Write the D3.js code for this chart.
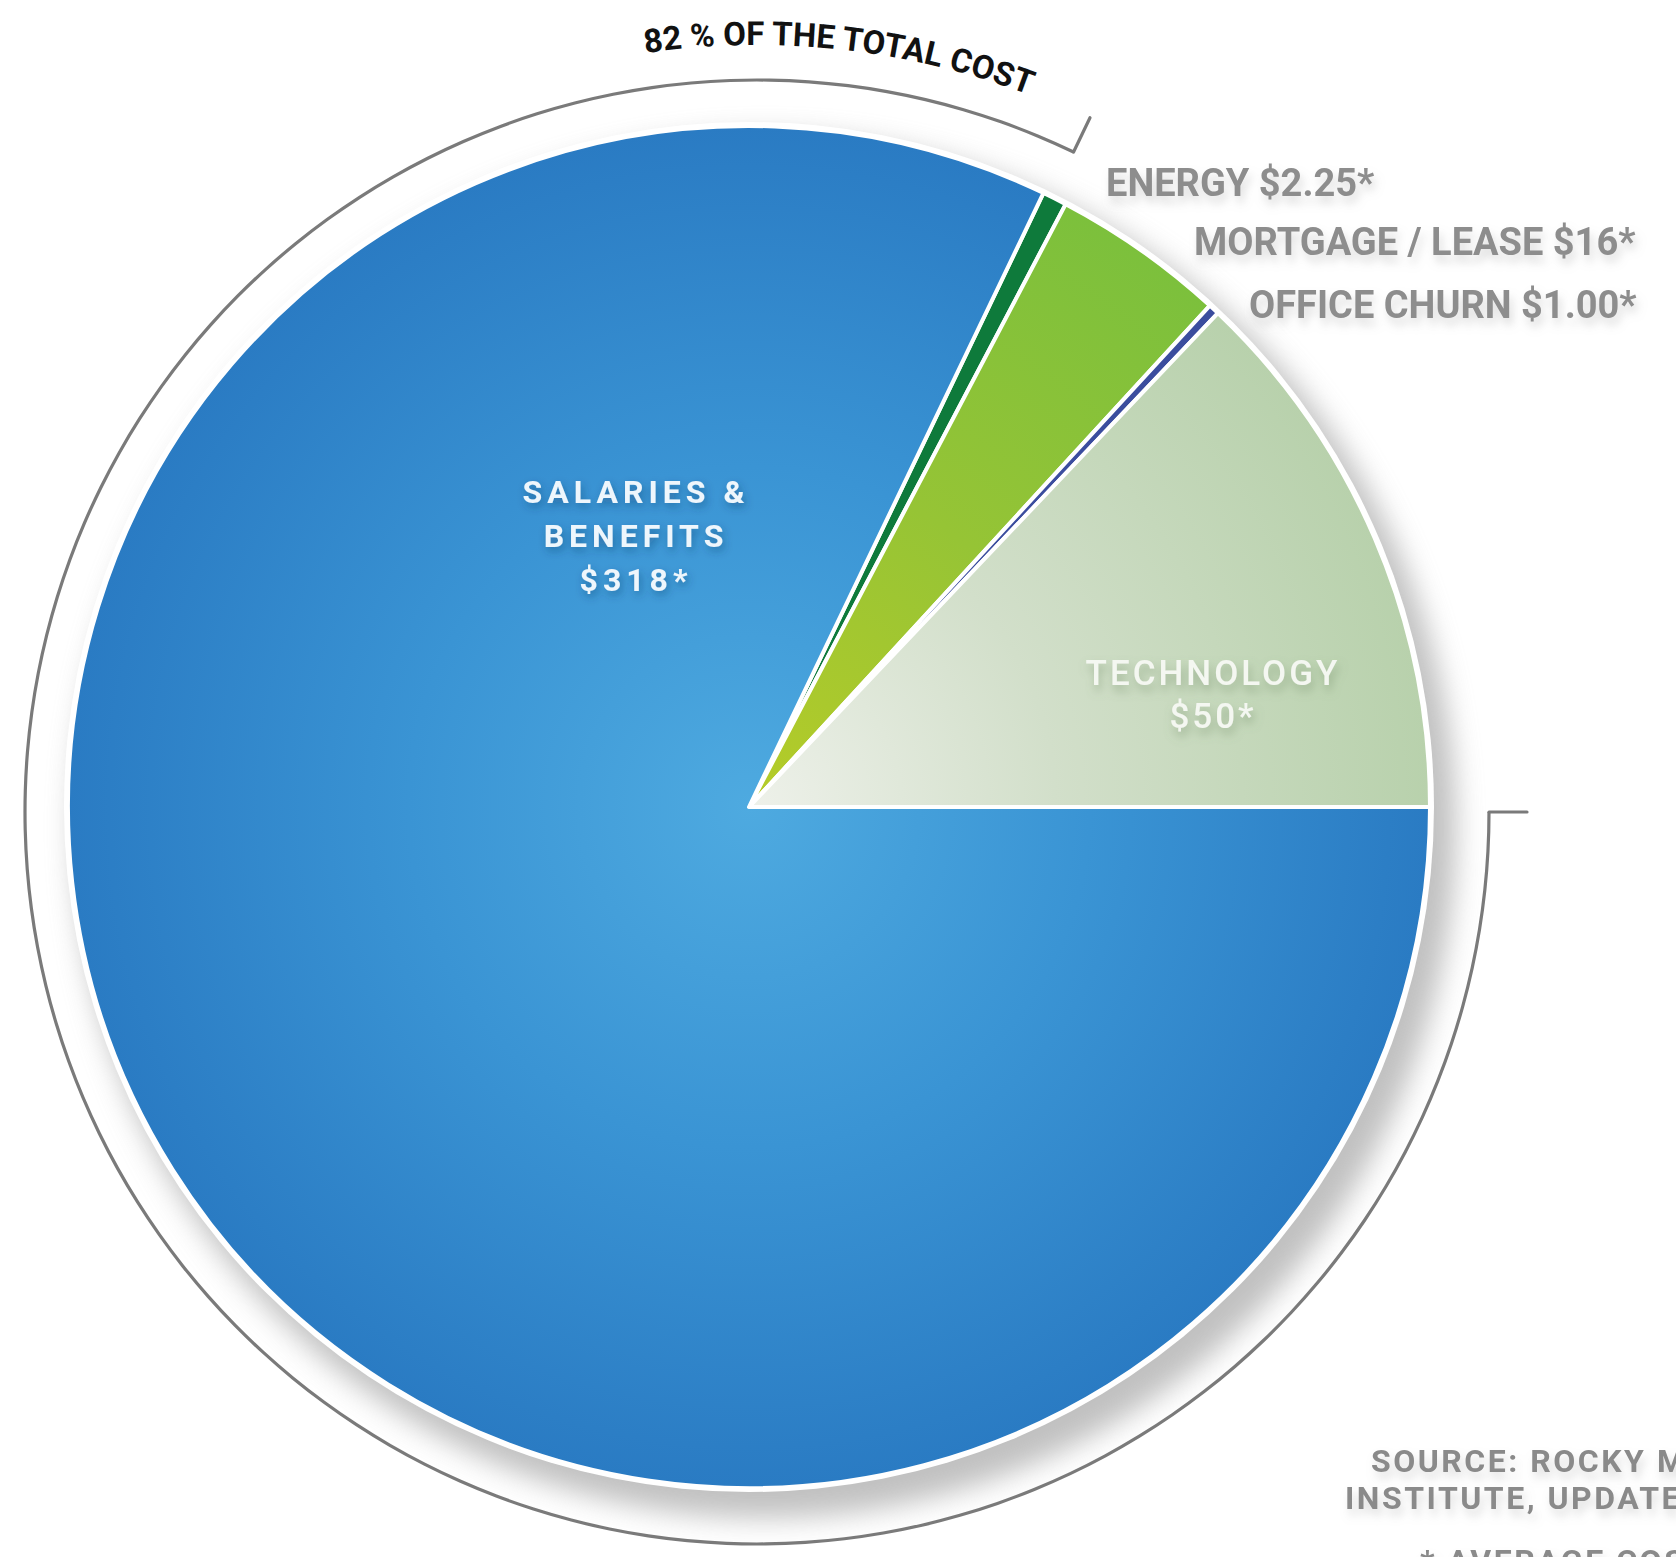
<!DOCTYPE html>
<html lang="en">
<head>
    <meta charset="UTF-8">
    <title>Office cost per square foot</title>
    <style>
        body { margin: 0; background: #fff; }
        svg { display: block; }
    </style>
</head>
<script src="https://cdn.jsdelivr.net/npm/d3@7"></script>
<body>
    <svg></svg>
</body>

<script>
    // slices in clockwise order, starting just right of 12 o'clock
    var categories = ["ENERGY", "MORTGAGE / LEASE", "OFFICE CHURN", "TECHNOLOGY", "SALARIES & BENEFITS"]
    var values = [2.25, 16, 1.00, 50, 318]
    var valueLabels = ["$2.25*", "$16*", "$1.00*", "$50*", "$318*"]
    var shareLabel = "82 % OF THE TOTAL COST"
    var sourceLines = ["SOURCE: ROCKY MOUNTAIN", "INSTITUTE, UPDATED", "* AVERAGE COST PER SQUARE FOOT"]

    var W = 1676, H = 1557
    var cx = 749, cy = 807, R = 681
    var ringCx = 757, ringCy = 812, ringR = 732

    var svg = d3.select("svg")
                .attr("width", W)
                .attr("height", H)
                .style("font-family", "Roboto, 'DejaVu Sans', sans-serif")

    var defs = svg.append("defs")

    // gradients live in the slice group's own coordinates (centre = 0,0)
    function radial(id, stops) {
        var g = defs.append("radialGradient")
            .attr("id", id)
            .attr("gradientUnits", "userSpaceOnUse")
            .attr("cx", 0).attr("cy", 0).attr("r", R)
        stops.forEach(s => g.append("stop").attr("offset", s[0]).attr("stop-color", s[1]))
    }
    radial("gSal", [[0, "#4eaae0"], [0.5, "#3a94d4"], [1, "#2a7bc3"]])
    radial("gTech", [[0, "#eef1ea"], [0.45, "#d2dfca"], [1, "#b8d1ac"]])
    radial("gMort", [[0, "#b6cc28"], [0.5, "#96c435"], [1, "#7cc03c"]])

    var blur = defs.append("filter").attr("id", "blur")
        .attr("x", "-20%").attr("y", "-20%").attr("width", "140%").attr("height", "140%")
    blur.append("feGaussianBlur").attr("stdDeviation", 14)

    function shadowFilter(id, dx, dy, sd, color, op) {
        var f = defs.append("filter").attr("id", id)
            .attr("x", "-20%").attr("y", "-50%").attr("width", "140%").attr("height", "200%")
        f.append("feDropShadow").attr("dx", dx).attr("dy", dy).attr("stdDeviation", sd)
            .attr("flood-color", color).attr("flood-opacity", op)
    }
    shadowFilter("txtDark", 2, 4, 4, "#123a66", 0.45)
    shadowFilter("txtTech", 2, 6, 5, "#6f8a66", 0.5)
    shadowFilter("txtGray", 3, 7, 5, "#9a9a9a", 0.35)

    defs.append("clipPath").attr("id", "ringClip")
        .append("circle").attr("cx", ringCx).attr("cy", ringCy).attr("r", ringR - 1)

    // pie layout: technology ends exactly at 3 o'clock
    var total = d3.sum(values)
    var before = d3.sum(values.slice(0, 4))
    var start = Math.PI / 2 - before / total * 2 * Math.PI

    var pie = d3.pie().sort(null).value(d => d)
                .startAngle(start).endAngle(start + 2 * Math.PI)
    var arcs = pie(values)

    var fills = ["#0e7a3b", "url(#gMort)", "#3b4d9e", "url(#gTech)", "url(#gSal)"]

    // soft drop shadow behind the pie
    svg.append("g").attr("clip-path", "url(#ringClip)")
        .append("circle")
        .attr("cx", cx + 16).attr("cy", cy + 20).attr("r", R + 10)
        .attr("fill", "#979797").attr("opacity", 0.6)
        .attr("filter", "url(#blur)")

    svg.append("circle")
        .attr("cx", cx).attr("cy", cy).attr("r", R + 4)
        .attr("fill", "#ffffff")

    var arc = d3.arc().innerRadius(0).outerRadius(R)

    svg.append("g")
        .attr("transform", "translate(" + cx + "," + cy + ")")
        .selectAll("path")
        .data(arcs)
        .join("path")
        .attr("d", arc)
        .attr("fill", (d, i) => fills[i])
        .attr("stroke", "#ffffff")
        .attr("stroke-width", 4)
        .attr("stroke-linejoin", "round")

    // bracket ring around the salaries slice
    var sal = arcs[4]
    var ring = svg.append("g").attr("transform", "translate(" + ringCx + "," + ringCy + ")")
    ring.append("path")
        .attr("d", d3.arc().innerRadius(ringR - 1.6).outerRadius(ringR + 1.6)
                    .startAngle(sal.startAngle).endAngle(sal.endAngle)())
        .attr("fill", "#7a7a7a")
    ring.selectAll("line")
        .data([sal.startAngle, sal.endAngle])
        .join("line")
        .attr("x1", a => Math.sin(a) * ringR)
        .attr("y1", a => -Math.cos(a) * ringR)
        .attr("x2", a => Math.sin(a) * (ringR + 38))
        .attr("y2", a => -Math.cos(a) * (ringR + 38))
        .attr("stroke", "#7a7a7a")
        .attr("stroke-width", 3.2)
        .attr("stroke-linecap", "round")

    // curved share label
    var textR = 767, mid = 6.2 * Math.PI / 180
    var tp = d3.path()
    tp.arc(ringCx, ringCy, textR, mid - Math.PI / 2 - 0.8, mid - Math.PI / 2 + 0.8)
    defs.append("path").attr("id", "sharePath").attr("d", tp.toString())
    svg.append("text")
        .attr("font-size", 33)
        .attr("font-weight", 700)
        .attr("fill", "#111")
        .append("textPath")
        .attr("href", "#sharePath")
        .attr("startOffset", "50%")
        .attr("text-anchor", "middle")
        .text(shareLabel)

    // labels inside the pie
    var salLabel = svg.append("text")
        .attr("text-anchor", "middle")
        .attr("font-size", 32)
        .attr("font-weight", 700)
        .attr("letter-spacing", 5)
        .attr("fill", "#eef6fc")
        .attr("filter", "url(#txtDark)")
    var salLines = ["SALARIES &", "BENEFITS", valueLabels[4]]
    salLines.forEach((t, i) => {
        salLabel.append("tspan").attr("x", 636).attr("y", 503 + i * 44).text(t)
    })

    var techLabel = svg.append("text")
        .attr("text-anchor", "middle")
        .attr("font-size", 35)
        .attr("font-weight", 500)
        .attr("letter-spacing", 3)
        .attr("fill", "#f4f7f1")
        .attr("filter", "url(#txtTech)")
    ;[categories[3], valueLabels[3]].forEach((t, i) => {
        techLabel.append("tspan").attr("x", 1213).attr("y", 685 + i * 43).text(t)
    })

    // small slices: labels outside on the right
    var outside = [0, 1, 2]
    var outX = [1106, 1194, 1249]
    var outY = [196, 255, 318]
    svg.selectAll("text.out")
        .data(outside)
        .join("text")
        .attr("class", "out")
        .attr("x", (d, i) => outX[i])
        .attr("y", (d, i) => outY[i])
        .attr("font-size", 38)
        .attr("font-weight", 700)
        .attr("fill", "#8d8d8d")
        .attr("filter", "url(#txtGray)")
        .text(d => categories[d] + " " + valueLabels[d])

    // source note, runs off the right edge as in the original
    var srcX = [1371, 1345, 1420]
    var srcY = [1472, 1509, 1572]
    svg.selectAll("text.src")
        .data(sourceLines)
        .join("text")
        .attr("class", "src")
        .attr("x", (d, i) => srcX[i])
        .attr("y", (d, i) => srcY[i])
        .attr("font-size", 32)
        .attr("font-weight", 700)
        .attr("letter-spacing", 2.5)
        .attr("fill", "#8a8a8a")
        .attr("filter", "url(#txtGray)")
        .text(d => d)

</script>
</html>
